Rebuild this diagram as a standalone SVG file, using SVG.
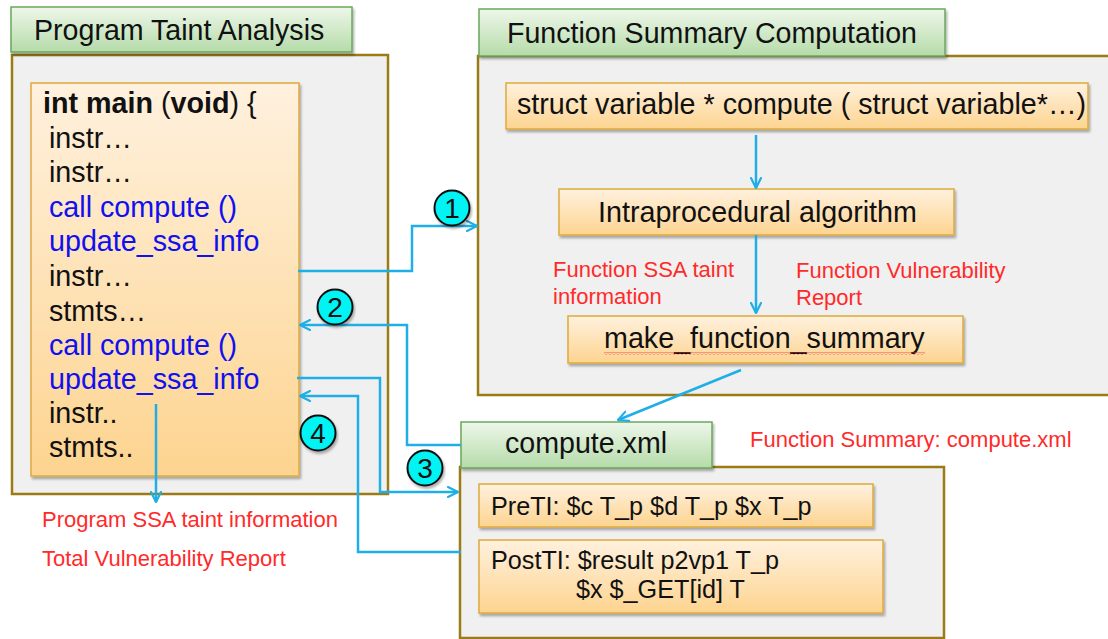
<svg xmlns="http://www.w3.org/2000/svg" width="1108" height="639" viewBox="0 0 1108 639">
  <defs>
    <linearGradient id="gTab" x1="0" y1="0" x2="0" y2="1">
      <stop offset="0" stop-color="#eef7ea"/>
      <stop offset="1" stop-color="#b5dba9"/>
    </linearGradient>
    <linearGradient id="gBox" x1="0" y1="0" x2="0" y2="1">
      <stop offset="0" stop-color="#fff1de"/>
      <stop offset="1" stop-color="#fdd490"/>
    </linearGradient>
    <filter id="shadow" x="-5%" y="-10%" width="115%" height="130%">
      <feDropShadow dx="1.5" dy="2.5" stdDeviation="1.2" flood-color="#000" flood-opacity="0.3"/>
    </filter>
    <pattern id="wavy" width="4" height="3" patternUnits="userSpaceOnUse">
      <path d="M0,2.5 L2,0.5 L4,2.5" fill="none" stroke="#e8333a" stroke-width="0.8"/>
    </pattern>
    <marker id="arrow" viewBox="0 0 12 12" refX="11" refY="6" markerWidth="12" markerHeight="12" markerUnits="userSpaceOnUse" orient="auto">
      <path d="M1,1 L11,6 L1,11" fill="none" stroke="#1fafe6" stroke-width="2.2" stroke-linecap="round" stroke-linejoin="round"/>
    </marker>
  </defs>
  <style>
    text { font-family: "Liberation Sans", Arial, sans-serif; }
    .panel { fill: #f0f0f0; stroke: #9b7b14; stroke-width: 2.5; }
    .tab { fill: url(#gTab); stroke: #6aa85c; stroke-width: 1.5; filter: url(#shadow); }
    .box { fill: url(#gBox); stroke: #deaa3c; stroke-width: 1.5; filter: url(#shadow); }
    .title { font-size: 28.6px; fill: #111; }
    .code { font-size: 28.7px; fill: #111; }
    .blue { fill: #1010f0; }
    .label { font-size: 28.7px; fill: #111; }
    .xml { font-size: 25.2px; fill: #111; }
    .note { font-size: 22px; fill: #ff2a2a; }
    .wire { fill: none; stroke: #1fafe6; stroke-width: 2.5; }
    .step circle { fill: #00f4f4; stroke: #111; stroke-width: 2; filter: url(#shadow); }
    .step text { font-size: 28px; fill: #111; text-anchor: middle; }
  </style>

  <!-- Program Taint Analysis panel -->
  <g id="program-panel">
    <rect class="panel" x="12" y="55" width="376" height="439"/>
    <rect class="tab" x="11" y="7" width="341" height="45"/>
    <text class="title" x="34" y="40">Program Taint Analysis</text>
  </g>

  <g id="main-code">
    <rect class="box" x="31" y="83" width="268" height="393"/>
    <text class="code" x="43" y="113"><tspan font-weight="bold">int main </tspan>(<tspan font-weight="bold">void</tspan>) {</text>
    <text class="code" x="49" y="148">instr…</text>
    <text class="code" x="49" y="182">instr…</text>
    <text class="code blue" x="49" y="217">call compute ()</text>
    <text class="code blue" x="49" y="251">update_ssa_info</text>
    <text class="code" x="49" y="286">instr…</text>
    <text class="code" x="49" y="321">stmts…</text>
    <text class="code blue" x="49" y="355">call compute ()</text>
    <text class="code blue" x="49" y="389">update_ssa_info</text>
    <text class="code" x="49" y="423">instr..</text>
    <text class="code" x="49" y="457">stmts..</text>
  </g>

  <g id="program-output">
    <text class="note" x="42" y="527">Program SSA taint information</text>
    <text class="note" x="42" y="566">Total Vulnerability Report</text>
  </g>

  <!-- Function Summary Computation panel -->
  <g id="summary-panel">
    <rect class="panel" x="478" y="56" width="640" height="339"/>
    <rect class="tab" x="479" y="9" width="466" height="47"/>
    <text class="title" x="507" y="43">Function Summary Computation</text>
  </g>

  <g id="compute-signature">
    <rect class="box" x="506" y="83" width="582" height="46"/>
    <text class="label" x="517" y="114">struct variable * compute ( struct variable*…)</text>
  </g>

  <g id="intraprocedural">
    <rect class="box" x="559" y="189" width="395" height="46"/>
    <text class="label" x="598" y="222">Intraprocedural algorithm</text>
  </g>

  <g id="function-outputs">
    <text class="note" x="553" y="277">Function SSA taint</text>
    <text class="note" x="553" y="304">information</text>
    <text class="note" x="796" y="278">Function Vulnerability</text>
    <text class="note" x="796" y="305">Report</text>
  </g>

  <g id="make-summary">
    <rect class="box" x="568" y="316" width="395" height="47"/>
    <text class="label" x="604" y="348">make_function_summary</text>
    <rect x="604" y="352" width="321" height="3" fill="url(#wavy)"/>
  </g>

  <!-- compute.xml summary file -->
  <g id="summary-file">
    <rect class="panel" x="460" y="467" width="484" height="171"/>
    <rect class="tab" x="461" y="422" width="251" height="46"/>
    <text class="title" x="505" y="453">compute.xml</text>
    <text class="note" x="750" y="447">Function Summary: compute.xml</text>
  </g>

  <g id="pre-ti">
    <rect class="box" x="479" y="484" width="394" height="43"/>
    <text class="xml" x="491" y="515">PreTI: $c T_p $d T_p $x T_p</text>
  </g>

  <g id="post-ti">
    <rect class="box" x="479" y="540" width="404" height="73"/>
    <text class="xml" x="491" y="569">PostTI: $result p2vp1 T_p</text>
    <text class="xml" x="576" y="598">$x $_GET[id] T</text>
  </g>

  <!-- connectors -->
  <g id="connectors">
    <path class="wire" d="M756,135 V188" marker-end="url(#arrow)"/>
    <path class="wire" d="M756,235 V313" marker-end="url(#arrow)"/>
    <path class="wire" d="M741,370 L618,420" marker-end="url(#arrow)"/>
    <path class="wire" d="M298,271 H412 V226 H477" marker-end="url(#arrow)"/>
    <path class="wire" d="M461,445 H407 V325 H300" marker-end="url(#arrow)"/>
    <path class="wire" d="M297,378 H380 V492 H458" marker-end="url(#arrow)"/>
    <path class="wire" d="M461,552 H358 V396 H300" marker-end="url(#arrow)"/>
    <path class="wire" d="M156,404 V502" marker-end="url(#arrow)"/>
  </g>

  <!-- numbered steps -->
  <g id="step-1" class="step">
    <circle cx="452" cy="208" r="17.5"/>
    <text x="452" y="218">1</text>
  </g>
  <g id="step-2" class="step">
    <circle cx="335" cy="307" r="17.5"/>
    <text x="335" y="317">2</text>
  </g>
  <g id="step-3" class="step">
    <circle cx="425" cy="468" r="17.5"/>
    <text x="425" y="478">3</text>
  </g>
  <g id="step-4" class="step">
    <circle cx="318" cy="433" r="17.5"/>
    <text x="318" y="443">4</text>
  </g>
</svg>
